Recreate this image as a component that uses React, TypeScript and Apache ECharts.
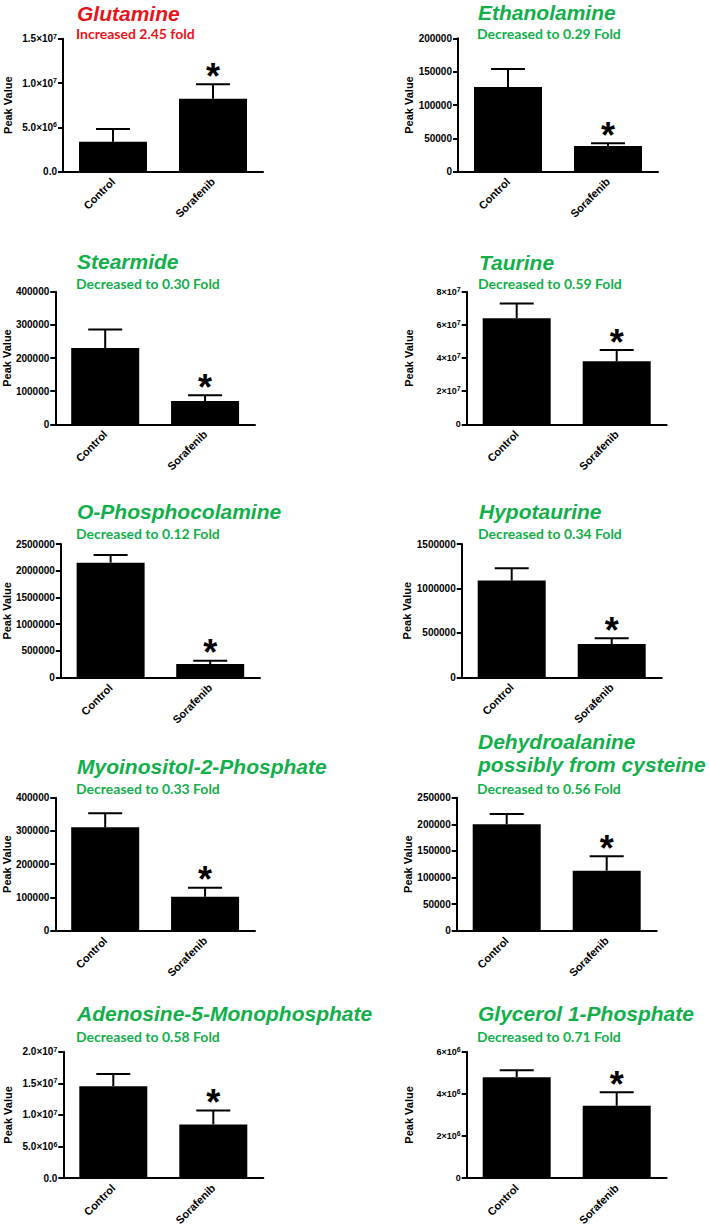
import React, { useEffect, useRef } from "react";
import * as echarts from "echarts";

// ---------- data ----------
const categories = ["Control", "Sorafenib"];
const metaboliteNames = [
  "Glutamine",
  "Ethanolamine",
  "Stearmide",
  "Taurine",
  "O-Phosphocolamine",
  "Hypotaurine",
  "Myoinositol-2-Phosphate",
  "Dehydroalanine\npossibly from cysteine",
  "Adenosine-5-Monophosphate",
  "Glycerol 1-Phosphate",
];
const foldTexts = [
  "Increased 2.45 fold",
  "Decreased to 0.29 Fold",
  "Decreased to 0.30 Fold",
  "Decreased to 0.59 Fold",
  "Decreased to 0.12 Fold",
  "Decreased to 0.34 Fold",
  "Decreased to 0.33 Fold",
  "Decreased to 0.56 Fold",
  "Decreased to 0.58 Fold",
  "Decreased to 0.71 Fold",
];
const controlMeans = [3.39e6, 127000, 230000, 6.4e7, 2151000, 1088000, 311000, 200000, 1.455e7, 4.79e6];
const controlSEM = [1.43e6, 27000, 56000, 0.89e7, 144000, 139000, 42000, 19400, 1.91e6, 0.33e6];
const sorafenibMeans = [8.24e6, 38500, 70000, 3.8e7, 256000, 375000, 102000, 112800, 8.5e6, 3.43e6];
const sorafenibSEM = [1.62e6, 4100, 17300, 0.68e7, 62000, 64000, 27000, 27000, 2.18e6, 0.64e6];
const sorafenibSignificant = [true, true, true, true, true, true, true, true, true, true];
const yMaxes = [1.5e7, 200000, 400000, 8e7, 2500000, 1500000, 400000, 250000, 2e7, 6e6];
const yIntervals = [5e6, 50000, 100000, 2e7, 500000, 500000, 100000, 50000, 5e6, 2e6];
const tickLabels = [
  ["0.0", "5.0×10^6", "1.0×10^7", "1.5×10^7"],
  ["0", "50000", "100000", "150000", "200000"],
  ["0", "100000", "200000", "300000", "400000"],
  ["0", "2×10^7", "4×10^7", "6×10^7", "8×10^7"],
  ["0", "500000", "1000000", "1500000", "2000000", "2500000"],
  ["0", "500000", "1000000", "1500000"],
  ["0", "100000", "200000", "300000", "400000"],
  ["0", "50000", "100000", "150000", "200000", "250000"],
  ["0.0", "5.0×10^6", "1.0×10^7", "1.5×10^7", "2.0×10^7"],
  ["0", "2×10^6", "4×10^6", "6×10^6"],
];
const yAxisName = "Peak Value";

// ---------- layout (positions / styles only) ----------
const panels = [
  { left: 63, top: 38.7, height: 133, tx: 77, ty: 13, sy: 33, nx: 7, tick: 10 },
  { left: 458, top: 38.3, height: 133.4, tx: 478, ty: 12, sy: 33, nx: 408, tick: 10 },
  { left: 55, top: 291.7, height: 132.6, tx: 77, ty: 261, sy: 283, nx: 7, tick: 10 },
  { left: 466.7, top: 291.7, height: 132.6, tx: 479, ty: 262, sy: 283, nx: 408, tick: 9 },
  { left: 60, top: 544, height: 133.7, tx: 77, ty: 511, sy: 533, nx: 7, tick: 10 },
  { left: 461.7, top: 544, height: 133.3, tx: 479, ty: 511, sy: 533, nx: 408, tick: 10 },
  { left: 55, top: 797.7, height: 133, tx: 77, ty: 766, sy: 788, nx: 7, tick: 10 },
  { left: 456.7, top: 797.7, height: 133, tx: 478, ty: 741, sy: 788, nx: 408, tick: 10 },
  { left: 63.3, top: 1051.7, height: 132.3, tx: 77, ty: 1013, sy: 1036, nx: 7, tick: 10 },
  { left: 466.7, top: 1051.7, height: 132.3, tx: 478, ty: 1013, sy: 1036, nx: 408, tick: 9 },
];
const RED = "#E8141B";
const GREEN = "#12AF4B";
const FONT = '"Liberation Sans", Arial, sans-serif';

function toRich(label: string) {
  const parts = label.split("^");
  if (parts.length === 1) return `{b|${parts[0]}}`;
  return `{b|${parts[0]}}{s|${parts[1]}}`;
}

export default function App() {
  const ref = useRef<HTMLDivElement>(null);

  useEffect(() => {
    if (!ref.current) return;
    const chart = echarts.init(ref.current, undefined, { renderer: "svg" });

    const grids: any[] = [];
    const xAxes: any[] = [];
    const yAxes: any[] = [];
    const series: any[] = [];
    const graphics: any[] = [];

    panels.forEach((p, i) => {
      grids.push({ left: p.left, top: p.top, width: 200, height: p.height, containLabel: false });
      xAxes.push({
        type: "category",
        gridIndex: i,
        data: categories,
        boundaryGap: true,
        axisLine: { lineStyle: { color: "#000", width: 2 } },
        axisTick: { alignWithLabel: true, length: 5, lineStyle: { color: "#000", width: 2 } },
        axisLabel: {
          rotate: 45,
          margin: 8,
          color: "#000",
          fontFamily: FONT,
          fontWeight: "bold",
          fontSize: 11,
          interval: 0,
        },
        splitLine: { show: false },
      });
      const labels = tickLabels[i];
      const interval = yIntervals[i];
      yAxes.push({
        type: "value",
        gridIndex: i,
        min: 0,
        max: yMaxes[i],
        interval,
        name: yAxisName,
        nameLocation: "middle",
        nameGap: p.left - p.nx - 6,
        nameTextStyle: { color: "#000", fontFamily: FONT, fontWeight: "bold", fontSize: 11 },
        axisLine: { show: true, lineStyle: { color: "#000", width: 2 } },
        axisTick: { show: true, length: 5, lineStyle: { color: "#000", width: 2 } },
        splitLine: { show: false },
        axisLabel: {
          margin: 6,
          color: "#000",
          formatter: (v: number) => toRich(labels[Math.round(v / interval)] ?? ""),
          rich: {
            b: { fontFamily: FONT, fontWeight: "bold", fontSize: p.tick, color: "#000", lineHeight: 12 },
            s: { fontFamily: FONT, fontWeight: "bold", fontSize: 7, color: "#000", verticalAlign: "top", lineHeight: 7 },
          },
        },
      });
      series.push({
        type: "bar",
        xAxisIndex: i,
        yAxisIndex: i,
        data: [controlMeans[i], sorafenibMeans[i]],
        barWidth: 68,
        itemStyle: { color: "#000" },
        silent: true,
      });
      series.push({
        type: "custom",
        xAxisIndex: i,
        yAxisIndex: i,
        clip: false,
        encode: { x: 0, y: 1 },
        data: [
          [0, controlMeans[i], controlSEM[i], 0],
          [1, sorafenibMeans[i], sorafenibSEM[i], sorafenibSignificant[i] ? 1 : 0],
        ],
        renderItem: (_params: any, api: any) => {
          const idx = api.value(0);
          const mean = api.value(1);
          const err = api.value(2);
          const sig = api.value(3);
          const base = api.coord([idx, mean]);
          const top = api.coord([idx, mean + err]);
          const children: any[] = [
            {
              type: "line",
              shape: { x1: base[0], y1: base[1], x2: top[0], y2: top[1] },
              style: { stroke: "#000", lineWidth: 2 },
            },
            {
              type: "line",
              shape: { x1: top[0] - 17, y1: top[1], x2: top[0] + 17, y2: top[1] },
              style: { stroke: "#000", lineWidth: 2 },
            },
          ];
          if (sig) {
            children.push({
              type: "text",
              x: top[0],
              y: top[1] - 8,
              style: {
                text: "*",
                fill: "#000",
                font: `bold 36px ${FONT}`,
                align: "center",
                verticalAlign: "middle",
              },
            });
          }
          return { type: "group", children };
        },
      });

      const color = i === 0 ? RED : GREEN;
      const nameLines = metaboliteNames[i].split("\n");
      nameLines.forEach((line, k) => {
        graphics.push({
          type: "text",
          x: p.tx,
          y: p.ty + k * 23,
          style: {
            text: line,
            fill: color,
            font: `italic bold 21px ${FONT}`,
            align: "left",
            verticalAlign: "middle",
          },
        });
      });
      graphics.push({
        type: "text",
        x: p.tx - 1,
        y: p.sy,
        style: {
          text: foldTexts[i],
          fill: color,
          font: 'bold 14px Lato, "Open Sans", sans-serif',
          align: "left",
          verticalAlign: "middle",
        },
      });
    });

    chart.setOption({
      animation: false,
      backgroundColor: "#fff",
      grid: grids,
      xAxis: xAxes,
      yAxis: yAxes,
      series,
      graphic: graphics,
    });

    return () => chart.dispose();
  }, []);

  return (
    <div
      ref={ref}
      style={{ position: "absolute", left: 0, top: 0, width: 709, height: 1228, background: "#fff" }}
    />
  );
}
